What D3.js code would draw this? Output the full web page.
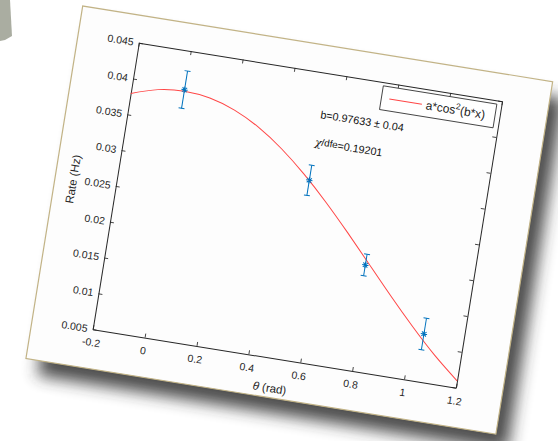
<!DOCTYPE html>
<html>
<head>
<meta charset="utf-8">
<script src="https://cdn.jsdelivr.net/npm/d3@7"></script>
<style>
    html, body { margin: 0; padding: 0; background: #ffffff; }
    svg { display: block; font-family: "Liberation Sans", Arial, Helvetica, sans-serif; }
</style>
</head>
<body>
<svg id="chart" width="558" height="441"></svg>
<script>
// Tick values and their labels
const xTicks = [-0.2, 0, 0.2, 0.4, 0.6, 0.8, 1, 1.2];
const xTickLabels = ['-0.2', '0', '0.2', '0.4', '0.6', '0.8', '1', '1.2'];
const yTicks = [0.005, 0.01, 0.015, 0.02, 0.025, 0.03, 0.035, 0.04, 0.045];
const yTickLabels = ['0.005', '0.01', '0.015', '0.02', '0.025', '0.03', '0.035', '0.04', '0.045'];

// Measured points with error bars
const thetaData = [0, 0.5236, 0.7854, 1.0472];
const rateData = [0.0396, 0.0300, 0.0197, 0.0116];
const rateErr = [0.0026, 0.0021, 0.0015, 0.0022];

// Fitted curve
const fitTheta = [-0.2, -0.1, 0, 0.1, 0.2, 0.3, 0.4, 0.5, 0.6, 0.7, 0.8, 0.9, 1.0, 1.1, 1.2];
const fitRate = [0.03792, 0.03903, 0.0394, 0.03903, 0.03792, 0.03612, 0.03369, 0.03073,
    0.02736, 0.02369, 0.01987, 0.01604, 0.01236, 0.00895, 0.00595];

const legendLabel = 'a*cos';
const fitNote = 'b=0.97633 \u00B1 0.04';
const chiNote = '=0.19201';

// Paper card, in its own (unrotated) frame
const PAPER_W = 476;
const PAPER_H = 357;
const PAPER_ANGLE = 9.15;
const AXIS_COLOR = '#262626';

const svg = d3.select('#chart');
const defs = svg.append('defs');

const shadowFilter = defs.append('filter')
    .attr('id', 'shadow')
    .attr('x', '-20%').attr('y', '-20%')
    .attr('width', '140%').attr('height', '140%');
shadowFilter.append('feGaussianBlur').attr('stdDeviation', 8);

// Grey object poking in at the top left
svg.append('polygon')
    .attr('points', '0,0 10,0 12,36 5,40 0,41')
    .attr('fill', '#aaada1');

const card = svg.append('g')
    .attr('transform', `translate(82.7,6) rotate(${PAPER_ANGLE})`);

// Shadow below the card
card.append('rect')
    .attr('x', 14).attr('y', 15)
    .attr('width', PAPER_W).attr('height', PAPER_H)
    .attr('fill', '#2e2e2e')
    .attr('opacity', 0.85)
    .attr('filter', 'url(#shadow)');

card.append('rect')
    .attr('width', PAPER_W).attr('height', PAPER_H)
    .attr('fill', '#fdfdfd')
    .attr('stroke', '#c2b386')
    .attr('stroke-width', 1.2);

const xScale = d3.scaleLinear().domain([-0.2, 1.2]).range([61.3, 429.2]);
const yScale = d3.scaleLinear().domain([0.005, 0.045]).range([317.4, 27.3]);

const plot = card.append('g');

// Box axes, ticks pointing inwards
const styleAxis = (g) => {
    g.select('.domain').attr('stroke', AXIS_COLOR).attr('stroke-width', 1);
    g.selectAll('.tick line').attr('stroke', AXIS_COLOR).attr('stroke-width', 0.8);
    g.selectAll('.tick text')
        .attr('fill', AXIS_COLOR)
        .attr('font-size', '10.5px');
};

plot.append('g')
    .attr('transform', `translate(0,${yScale.range()[0]})`)
    .call(d3.axisBottom(xScale).tickValues(xTicks)
        .tickFormat((d, i) => xTickLabels[i])
        .tickSize(-4).tickSizeOuter(0).tickPadding(9.5))
    .call(styleAxis);

plot.append('g')
    .attr('transform', `translate(0,${yScale.range()[1]})`)
    .call(d3.axisTop(xScale).tickValues(xTicks).tickFormat('')
        .tickSize(-4).tickSizeOuter(0))
    .call(styleAxis);

plot.append('g')
    .attr('transform', `translate(${xScale.range()[0]},0)`)
    .call(d3.axisLeft(yScale).tickValues(yTicks)
        .tickFormat((d, i) => yTickLabels[i])
        .tickSize(-4).tickSizeOuter(0).tickPadding(5.3))
    .call(styleAxis);

plot.append('g')
    .attr('transform', `translate(${xScale.range()[1]},0)`)
    .call(d3.axisRight(yScale).tickValues(yTicks).tickFormat('')
        .tickSize(-4).tickSizeOuter(0))
    .call(styleAxis);

// Axis titles
plot.append('text')
    .attr('transform', `translate(22,${(yScale.range()[0] + yScale.range()[1]) / 2}) rotate(-90)`)
    .attr('text-anchor', 'middle')
    .attr('font-size', '11.5px')
    .attr('fill', AXIS_COLOR)
    .text('Rate (Hz)');

const xTitle = plot.append('text')
    .attr('x', (xScale.range()[0] + xScale.range()[1]) / 2)
    .attr('y', 351.5)
    .attr('text-anchor', 'middle')
    .attr('font-size', '11.5px')
    .attr('fill', AXIS_COLOR);
xTitle.append('tspan').attr('font-style', 'italic').text('\u03B8');
xTitle.append('tspan').text(' (rad)');

// Fitted curve
const line = d3.line()
    .x((d, i) => xScale(fitTheta[i]))
    .y((d) => yScale(d))
    .curve(d3.curveNatural);

plot.append('path')
    .datum(fitRate)
    .attr('d', line)
    .attr('fill', 'none')
    .attr('stroke', '#ff4646')
    .attr('stroke-width', 1);

// Error bars and asterisk markers
const points = thetaData.map((t, i) => ({ t, r: rateData[i], e: rateErr[i] }));
const BLUE = '#0072bd';
const CAP = 3;
const STAR = 3.2;

const bars = plot.selectAll('.errbar').data(points).enter()
    .append('g')
    .attr('class', 'errbar')
    .attr('stroke', BLUE)
    .attr('stroke-width', 1);

bars.append('line')
    .attr('x1', (d) => xScale(d.t)).attr('x2', (d) => xScale(d.t))
    .attr('y1', (d) => yScale(d.r - d.e)).attr('y2', (d) => yScale(d.r + d.e));
bars.append('line')
    .attr('x1', (d) => xScale(d.t) - CAP).attr('x2', (d) => xScale(d.t) + CAP)
    .attr('y1', (d) => yScale(d.r + d.e)).attr('y2', (d) => yScale(d.r + d.e));
bars.append('line')
    .attr('x1', (d) => xScale(d.t) - CAP).attr('x2', (d) => xScale(d.t) + CAP)
    .attr('y1', (d) => yScale(d.r - d.e)).attr('y2', (d) => yScale(d.r - d.e));

bars.append('path')
    .attr('d', (d) => {
        const cx = xScale(d.t);
        const cy = yScale(d.r);
        const k = STAR * 0.72;
        return `M${cx - STAR},${cy}H${cx + STAR}M${cx},${cy - STAR}V${cy + STAR}` +
            `M${cx - k},${cy - k}L${cx + k},${cy + k}M${cx - k},${cy + k}L${cx + k},${cy - k}`;
    });

// Fit annotations
plot.append('text')
    .attr('x', 252).attr('y', 73)
    .attr('font-size', '10.8px')
    .attr('fill', '#111')
    .text(fitNote);

const chi = plot.append('text')
    .attr('x', 251).attr('y', 101)
    .attr('font-size', '10.8px')
    .attr('fill', '#111');
chi.append('tspan').attr('font-style', 'italic').attr('font-family', 'DejaVu Serif, serif').text('\u03C7');
chi.append('tspan').attr('font-size', '9.8px').attr('dy', -1).text('/dfe');
chi.append('tspan').attr('dy', 1).text(chiNote);

// Legend
const legend = plot.append('g').attr('transform', 'translate(309.5,31)');
legend.append('rect')
    .attr('width', 115).attr('height', 24)
    .attr('fill', '#ffffff')
    .attr('stroke', AXIS_COLOR)
    .attr('stroke-width', 0.8);
legend.append('line')
    .attr('x1', 8).attr('x2', 41)
    .attr('y1', 12).attr('y2', 12)
    .attr('stroke', '#ff4646')
    .attr('stroke-width', 1);
const legendText = legend.append('text')
    .attr('x', 45).attr('y', 16.5)
    .attr('font-size', '12px')
    .attr('fill', AXIS_COLOR);
legendText.append('tspan').text(legendLabel);
legendText.append('tspan').attr('font-size', '8.5px').attr('dy', -5).text('2');
legendText.append('tspan').attr('dy', 5).text('(b*x)');
</script>
</body>
</html>
